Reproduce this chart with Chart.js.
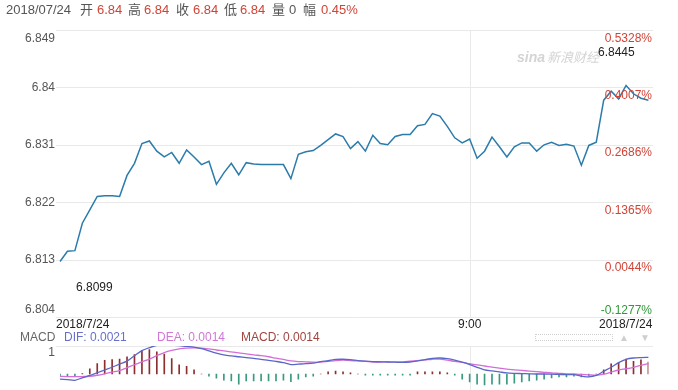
<!DOCTYPE html>
<html>
<head>
<meta charset="utf-8">
<script src="https://cdn.jsdelivr.net/npm/chart.js@4.4.1/dist/chart.umd.min.js"></script>
<style>
  body { margin: 0; background: #fff; width: 678px; height: 390px; overflow: hidden; position: relative;
         font-family: "Liberation Sans", Arial, "Noto Sans CJK SC", sans-serif; }
  canvas { position: absolute; left: 0; top: 0; }
  .t { position: absolute; white-space: nowrap; line-height: 1; }
  .hd { font-size: 13px; top: 3px; color: #555; }
  .red { color: #d04437; }
  .lg { font-size: 12px; top: 331px; }
</style>
</head>
<body>
<canvas id="priceChart" width="678" height="390"></canvas>
<canvas id="macdChart" width="678" height="390"></canvas>

<!-- header -->
<span class="t hd" style="left:6px">2018/07/24</span>
<span class="t hd" style="left:80px">开</span><span class="t hd red" style="left:97px">6.84</span>
<span class="t hd" style="left:128px">高</span><span class="t hd red" style="left:144px">6.84</span>
<span class="t hd" style="left:176px">收</span><span class="t hd red" style="left:193px">6.84</span>
<span class="t hd" style="left:224px">低</span><span class="t hd red" style="left:240px">6.84</span>
<span class="t hd" style="left:272px">量</span><span class="t hd" style="left:289px">0</span>
<span class="t hd" style="left:303px">幅</span><span class="t hd red" style="left:321px">0.45%</span>

<!-- watermark and annotations -->
<span class="t" style="left:517px;top:50px;font-size:14px;font-style:italic;font-weight:bold;color:#d4d4d4">sina</span>
<span class="t" style="left:547px;top:51px;font-size:13px;font-style:italic;color:#d4d4d4">新浪财经</span>
<span class="t" style="left:598px;top:46px;font-size:12px;color:#222">6.8445</span>
<span class="t" style="left:76px;top:281px;font-size:12px;color:#222">6.8099</span>

<!-- MACD legend -->
<span class="t lg" style="left:20px;color:#666">MACD</span>
<span class="t lg" style="left:64px;color:#6670cc">DIF: 0.0021</span>
<span class="t lg" style="left:157px;color:#d276d8">DEA: 0.0014</span>
<span class="t lg" style="left:241px;color:#a2443f">MACD: 0.0014</span>

<!-- scroll controls -->
<div style="position:absolute;left:535px;top:334px;width:76px;height:5px;border:1px dotted #d0d0d0"></div>
<span class="t" style="left:619px;top:333px;font-size:10px;color:#cfcfcf">▲</span>
<span class="t" style="left:640px;top:333px;font-size:10px;color:#cfcfcf">▼</span>

<script>
// price series (one point per minute step)
const prices = [
  6.8127, 6.8143, 6.8144, 6.8187, 6.8208, 6.8229, 6.8230, 6.8230, 6.8229, 6.8262,
  6.8281, 6.8312, 6.8316, 6.8300, 6.8291, 6.8298, 6.8281, 6.8302, 6.8291, 6.8279,
  6.8284, 6.8248, 6.8266, 6.8281, 6.8263, 6.8282, 6.8280, 6.8279, 6.8279, 6.8279,
  6.8279, 6.8257, 6.8295, 6.8299, 6.8301, 6.8309, 6.8318, 6.8327, 6.8323, 6.8304,
  6.8315, 6.8300, 6.8325, 6.8312, 6.8310, 6.8323, 6.8326, 6.8326, 6.8340, 6.8342,
  6.8359, 6.8355, 6.8339, 6.8321, 6.8313, 6.8319, 6.8289, 6.8300, 6.8322, 6.8307,
  6.8291, 6.8307, 6.8313, 6.8313, 6.8300, 6.8310, 6.8314, 6.8309, 6.8311, 6.8308,
  6.8278, 6.8309, 6.8314, 6.8380, 6.8394, 6.8382, 6.8403, 6.8390, 6.8383, 6.8380
];

const difValues = [
  -0.24, -0.27, -0.30, -0.18, -0.07, 0.06, 0.19, 0.32, 0.47, 0.61,
  0.87, 1.11, 1.25, 1.36, 1.37, 1.36, 1.35, 1.31, 1.28, 1.21,
  1.10, 0.99, 0.91, 0.86, 0.82, 0.78, 0.74, 0.69, 0.65, 0.60,
  0.54, 0.45, 0.47, 0.49, 0.52, 0.59, 0.63, 0.69, 0.70, 0.68,
  0.64, 0.61, 0.59, 0.58, 0.57, 0.56, 0.55, 0.57, 0.62, 0.68,
  0.74, 0.76, 0.73, 0.66, 0.56, 0.45, 0.32, 0.20, 0.15, 0.10,
  0.05, 0.03, 0.02, 0.01, 0.00, -0.00, -0.01, -0.02, -0.03, -0.03,
  -0.10, -0.14, -0.07, 0.13, 0.32, 0.54, 0.70, 0.76, 0.78, 0.79
];

const deaValues = [
  -0.11, -0.12, -0.12, -0.12, -0.11, -0.06, 0.01, 0.09, 0.16, 0.30,
  0.44, 0.58, 0.71, 0.87, 1.02, 1.12, 1.19, 1.23, 1.24, 1.23,
  1.19, 1.14, 1.10, 1.05, 1.00, 0.96, 0.91, 0.87, 0.82, 0.75,
  0.69, 0.62, 0.59, 0.58, 0.56, 0.56, 0.60, 0.64, 0.66, 0.64,
  0.62, 0.60, 0.57, 0.57, 0.58, 0.58, 0.58, 0.61, 0.64, 0.67,
  0.70, 0.71, 0.66, 0.60, 0.55, 0.49, 0.43, 0.38, 0.33, 0.28,
  0.23, 0.20, 0.17, 0.14, 0.11, 0.08, 0.05, 0.03, 0.01, -0.00,
  -0.02, -0.04, -0.06, -0.01, 0.09, 0.19, 0.25, 0.32, 0.41, 0.49
];

const macdBars = [
  -0.08, -0.08, -0.08, 0.02, 0.24, 0.49, 0.65, 0.68, 0.71, 0.81,
  0.92, 1.11, 1.16, 1.05, 0.95, 0.73, 0.44, 0.37, 0.20, 0.00,
  -0.10, -0.20, -0.29, -0.33, -0.48, -0.33, -0.33, -0.33, -0.33, -0.33,
  -0.29, -0.37, -0.24, -0.14, -0.10, 0.00, 0.10, 0.14, 0.10, 0.05,
  0.00, -0.05, -0.05, -0.05, -0.05, -0.05, -0.05, -0.05, 0.10, 0.10,
  0.10, 0.10, 0.05, -0.05, -0.24, -0.38, -0.48, -0.52, -0.48, -0.48,
  -0.48, -0.43, -0.38, -0.33, -0.29, -0.24, -0.19, -0.14, -0.14, -0.10,
  -0.14, -0.10, 0.00, 0.20, 0.48, 0.56, 0.71, 0.60, 0.67, 0.57
];

const priceTicks = [6.804, 6.813, 6.822, 6.831, 6.84, 6.849];
const priceTickLabels = ['6.804', '6.813', '6.822', '6.831', '6.84', '6.849'];
const pctTickLabels = ['-0.1277%', '0.0044%', '0.1365%', '0.2686%', '0.4007%', '0.5328%'];
const xTickIndex = [0, 55, 79];
const xTickLabels = ['2018/7/24', '9:00', '2018/7/24'];
const macdTicks = [1];

const labels = prices.map((_, i) => i);
const FONT = '"Liberation Sans", Arial, sans-serif';
const GRID = '#e9e9e9';

// grid lines + axis text for the price panel
const pricePlugin = {
  id: 'priceAxes',
  beforeDatasetsDraw(chart) {
    const { ctx, chartArea: a, scales: { x, y } } = chart;
    ctx.save();
    ctx.strokeStyle = GRID;
    ctx.lineWidth = 1;
    priceTicks.forEach(v => {
      const py = Math.round(y.getPixelForValue(v)) + 0.5;
      ctx.beginPath(); ctx.moveTo(56, py); ctx.lineTo(653, py); ctx.stroke();
    });
    const vx = Math.round(x.getPixelForValue(55)) + 0.5;
    ctx.beginPath(); ctx.moveTo(vx, a.top); ctx.lineTo(vx, a.bottom); ctx.stroke();
    ctx.restore();
  },
  afterDraw(chart) {
    const { ctx, scales: { x, y } } = chart;
    const last = priceTicks.length - 1;
    ctx.save();
    ctx.font = '12px ' + FONT;
    ctx.textBaseline = 'middle';
    priceTicks.forEach((v, i) => {
      const py = y.getPixelForValue(v);
      const ly = i === last ? py + 9 : (i === 0 ? py - 7 : py);
      ctx.fillStyle = '#555';
      ctx.textAlign = 'right';
      ctx.fillText(priceTickLabels[i], 55, ly);
      const ry = i === last ? py + 9 : (i === 0 ? py - 6 : py + 8);
      ctx.fillStyle = i === 0 ? '#2f9a3a' : '#d04437';
      ctx.fillText(pctTickLabels[i], 652, ry);
    });
    ctx.fillStyle = '#222';
    xTickIndex.forEach((idx, i) => {
      const px = x.getPixelForValue(idx);
      if (i === 0) { ctx.textAlign = 'left'; ctx.fillText(xTickLabels[i], px - 4, 325); }
      else if (i === xTickIndex.length - 1) { ctx.textAlign = 'right'; ctx.fillText(xTickLabels[i], px + 4, 325); }
      else { ctx.textAlign = 'center'; ctx.fillText(xTickLabels[i], px, 325); }
    });
    ctx.restore();
  }
};

const macdPlugin = {
  id: 'macdAxes',
  beforeDatasetsDraw(chart) {
    const { ctx, chartArea: a, scales: { x, y } } = chart;
    ctx.save();
    ctx.strokeStyle = GRID;
    ctx.lineWidth = 1;
    ctx.beginPath(); ctx.moveTo(56, a.top + 0.5); ctx.lineTo(653, a.top + 0.5); ctx.stroke();
    const vx = Math.round(x.getPixelForValue(55)) + 0.5;
    ctx.beginPath(); ctx.moveTo(vx, a.top); ctx.lineTo(vx, a.bottom); ctx.stroke();
    ctx.font = '12px ' + FONT;
    ctx.fillStyle = '#555';
    ctx.textAlign = 'right';
    ctx.textBaseline = 'middle';
    macdTicks.forEach(v => ctx.fillText(String(v), 55, y.getPixelForValue(v)));
    ctx.restore();
  }
};

new Chart(document.getElementById('priceChart').getContext('2d'), {
  type: 'line',
  data: {
    labels: labels,
    datasets: [{
      data: prices,
      borderColor: '#2b7bab',
      borderWidth: 1.5,
      pointRadius: 0,
      tension: 0
    }]
  },
  options: {
    responsive: false,
    animation: false,
    devicePixelRatio: 1,
    layout: { padding: { left: 60, right: 29.6, top: 30, bottom: 73 } },
    plugins: { legend: { display: false }, tooltip: { enabled: false } },
    scales: {
      x: { type: 'category', display: false, offset: false },
      y: { display: false, min: 6.804, max: 6.849 }
    }
  },
  plugins: [pricePlugin]
});

new Chart(document.getElementById('macdChart').getContext('2d'), {
  type: 'bar',
  data: {
    labels: labels,
    datasets: [
      {
        type: 'line', data: difValues, borderColor: '#5a66c8', borderWidth: 1.3,
        pointRadius: 0, tension: 0.3, order: 1
      },
      {
        type: 'line', data: deaValues, borderColor: '#d36ed9', borderWidth: 1.3,
        pointRadius: 0, tension: 0.3, order: 2
      },
      {
        type: 'bar', data: macdBars, barThickness: 1, order: 3,
        backgroundColor: macdBars.map(v => v >= 0 ? '#8e2e2e' : '#3a9a80')
      }
    ]
  },
  options: {
    responsive: false,
    animation: false,
    devicePixelRatio: 1,
    layout: { padding: { left: 60, right: 29.6, top: 346, bottom: 0 } },
    plugins: { legend: { display: false }, tooltip: { enabled: false } },
    scales: {
      x: { type: 'category', display: false, offset: false },
      y: { display: false, min: -0.76, max: 1.33 }
    }
  },
  plugins: [macdPlugin]
});
</script>
</body>
</html>
